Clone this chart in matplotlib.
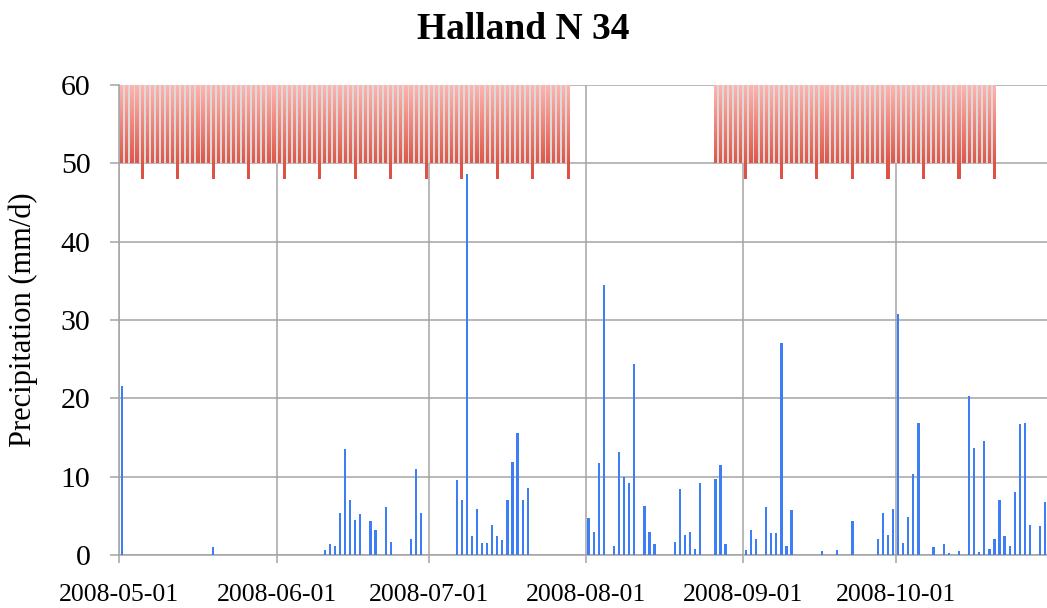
import matplotlib
matplotlib.use("Agg")
import matplotlib.pyplot as plt
import matplotlib.dates as mdates
import numpy as np
import pandas as pd
from matplotlib.path import Path
from matplotlib.patches import PathPatch, Rectangle
from matplotlib.colors import LinearSegmentedColormap

# daily precipitation (mm/d), days without rain left out
rain_dates = [
    "2008-05-01", "2008-05-19",
    "2008-06-10", "2008-06-11", "2008-06-12", "2008-06-13", "2008-06-14", "2008-06-15",
    "2008-06-16", "2008-06-17", "2008-06-19", "2008-06-20", "2008-06-22", "2008-06-23",
    "2008-06-27", "2008-06-28", "2008-06-29",
    "2008-07-06", "2008-07-07", "2008-07-08", "2008-07-09", "2008-07-10", "2008-07-11",
    "2008-07-12", "2008-07-13", "2008-07-14", "2008-07-15", "2008-07-16", "2008-07-17",
    "2008-07-18", "2008-07-19", "2008-07-20",
    "2008-08-01", "2008-08-02", "2008-08-03", "2008-08-04", "2008-08-06", "2008-08-07",
    "2008-08-08", "2008-08-09", "2008-08-10", "2008-08-12", "2008-08-13", "2008-08-14",
    "2008-08-18", "2008-08-19", "2008-08-20", "2008-08-21", "2008-08-22", "2008-08-23",
    "2008-08-26", "2008-08-27", "2008-08-28",
    "2008-09-01", "2008-09-02", "2008-09-03", "2008-09-05", "2008-09-06", "2008-09-07",
    "2008-09-08", "2008-09-09", "2008-09-10", "2008-09-16", "2008-09-19", "2008-09-22",
    "2008-09-27", "2008-09-28", "2008-09-29", "2008-09-30",
    "2008-10-01", "2008-10-02", "2008-10-03", "2008-10-04", "2008-10-05", "2008-10-08",
    "2008-10-10", "2008-10-11", "2008-10-13", "2008-10-15", "2008-10-16", "2008-10-17",
    "2008-10-18", "2008-10-19", "2008-10-20", "2008-10-21", "2008-10-22", "2008-10-23",
    "2008-10-24", "2008-10-25", "2008-10-26", "2008-10-27", "2008-10-29", "2008-10-30",
]
rain_mm = [
    21.6, 1.0,
    0.7, 1.4, 1.1, 5.4, 13.5, 7.0,
    4.5, 5.2, 4.3, 3.2, 6.1, 1.6,
    2.0, 11.0, 5.4,
    9.6, 7.0, 48.6, 2.4, 5.9, 1.5,
    1.5, 3.8, 2.4, 1.9, 7.0, 11.9,
    15.6, 7.0, 8.5,
    4.7, 3.0, 11.7, 34.5, 1.2, 13.1,
    10.0, 9.2, 24.4, 6.2, 2.9, 1.4,
    1.6, 8.4, 2.6, 2.9, 0.8, 9.2,
    9.7, 11.5, 1.4,
    0.6, 3.2, 2.0, 6.1, 2.8, 2.8,
    27.1, 1.1, 5.7, 0.5, 0.6, 4.4,
    2.0, 5.3, 2.6, 5.9,
    30.8, 1.5, 4.9, 10.3, 16.8, 1.0,
    1.4, 0.3, 0.5, 20.3, 13.7, 0.4,
    14.5, 0.8, 2.0, 7.0, 2.4, 1.1,
    8.0, 16.7, 16.9, 3.8, 3.7, 6.8,
]

# flagged periods (red band 50-60) and weekly markers (down to 48)
flag_periods = [("2008-05-01", "2008-07-28"), ("2008-08-26", "2008-10-20")]
flag_low, flag_high = 50, 60
week_marks = [
    "2008-05-05", "2008-05-12", "2008-05-19", "2008-05-26", "2008-06-02", "2008-06-09",
    "2008-06-16", "2008-06-23", "2008-06-30", "2008-07-07", "2008-07-14", "2008-07-21",
    "2008-07-28", "2008-09-01", "2008-09-08", "2008-09-15", "2008-09-22", "2008-09-29",
    "2008-10-06", "2008-10-13", "2008-10-20",
]
week_low = 48

month_ticks = ["2008-05-01", "2008-06-01", "2008-07-01", "2008-08-01", "2008-09-01", "2008-10-01"]
x_start, x_end = "2008-05-01", "2008-10-30"

serif = ["Liberation Serif", "DejaVu Serif"]
grid_col = "#a4a4a4"


def to_x(dates):
    # bars sit in the middle of their day
    return mdates.date2num(pd.to_datetime(dates).to_pydatetime()) + 0.5


fig = plt.figure(figsize=(10.47, 6.08), dpi=100)
ax = fig.add_axes([119.3 / 1047, 53 / 608, (1047 - 119.3) / 1047, 470 / 608])

# blue precipitation bars
ax.bar(to_x(rain_dates), rain_mm, width=0.45, color="#3d7ef6", zorder=3)

# red flag bars with a vertical gradient
flag_days = np.concatenate([to_x(pd.date_range(a, b)) for a, b in flag_periods])
week_x = to_x(week_marks)
day_bars = ax.bar(flag_days, flag_high - flag_low, bottom=flag_low, width=0.62,
                  color="none", zorder=3)
week_bars = ax.bar(week_x, flag_high - week_low, bottom=week_low, width=0.62,
                   color="none", zorder=3)

paths = [p.get_path().transformed(p.get_patch_transform())
         for p in list(day_bars) + list(week_bars)]
clip = PathPatch(Path.make_compound_path(*paths), transform=ax.transData)

# light grey shadow between the red bars
for a, b in flag_periods:
    xa, xb = to_x([a])[0] - 0.3, to_x([b])[0] + 0.3
    ax.add_patch(Rectangle((xa, flag_low), xb - xa, flag_high - flag_low,
                           facecolor="#dadada", edgecolor="none", zorder=2))

cmap = LinearSegmentedColormap.from_list(
    "flag", [(0, "#de5244"), (2 / 12, "#df5547"), (1, "#ffb5b0")])
grad = np.linspace(0, 1, 256).reshape(-1, 1)
x0, x1 = flag_days.min() - 1, flag_days.max() + 1
im = ax.imshow(grad, extent=[x0, x1, week_low, flag_high], origin="lower",
               aspect="auto", cmap=cmap, zorder=3, interpolation="bilinear")
im.set_clip_path(clip)

# axes
ax.set_xlim(mdates.datestr2num(x_start), mdates.datestr2num(x_end) + 0.85)
ax.set_ylim(0, 60)
ax.set_yticks(range(0, 61, 10))
ax.set_xticks(mdates.datestr2num(month_ticks))
ax.set_xticklabels(month_ticks)
ax.set_axisbelow(True)
ax.grid(True, color=grid_col, linewidth=1.1)

for side in ["top", "right"]:
    ax.spines[side].set_visible(False)
for side in ["left", "bottom"]:
    ax.spines[side].set_color(grid_col)
    ax.spines[side].set_linewidth(1.1)

ax.tick_params(axis="x", length=6, width=1.1, color=grid_col, pad=15)
ax.tick_params(axis="y", length=6.7, width=1.1, color=grid_col, pad=14)
for lab in ax.get_xticklabels():
    lab.set_fontfamily(serif)
    lab.set_fontsize(18.5)
for lab in ax.get_yticklabels():
    lab.set_fontfamily(serif)
    lab.set_fontsize(21.5)

ax.set_ylabel("Precipitation (mm/d)", fontsize=22, family=serif, va="center")
ax.yaxis.set_label_coords(-0.104, 0.5)

fig.text(0.5, 569 / 608, "Halland N 34", ha="center", va="baseline",
         fontsize=27, fontweight="bold", family=serif)

fig.savefig("out.png", dpi=100)
